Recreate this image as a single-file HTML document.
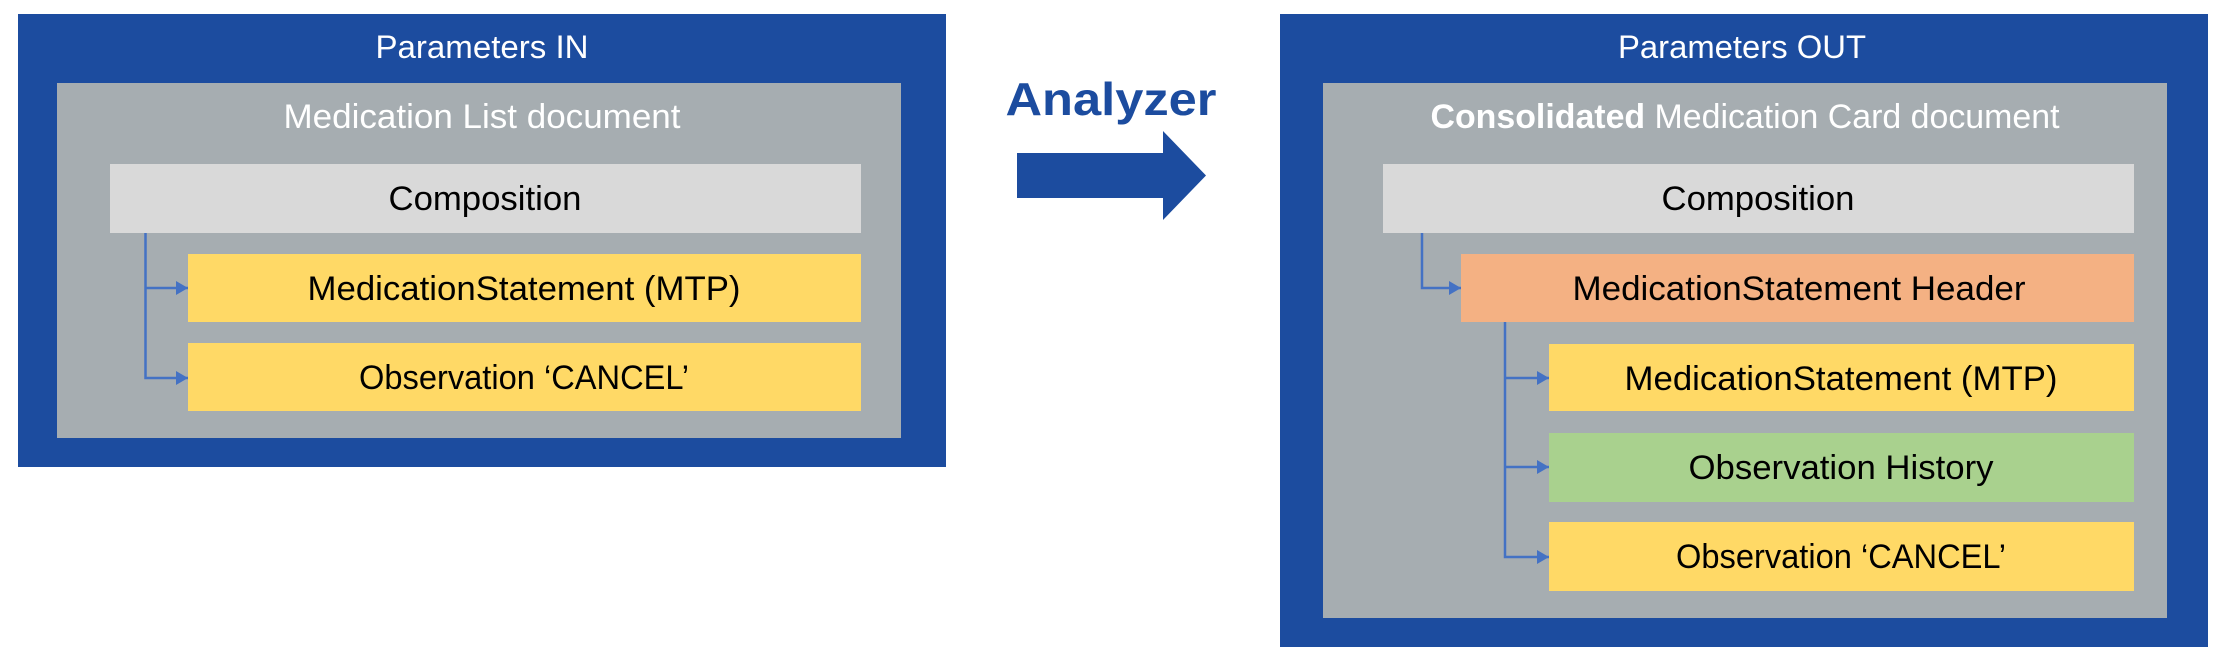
<!DOCTYPE html>
<html><head><meta charset="utf-8"><style>
html,body{margin:0;padding:0;background:#fff;}
svg{display:block;font-family:"Liberation Sans",sans-serif;}
</style></head><body>
<svg width="2227" height="661" viewBox="0 0 2227 661">
<defs>
<marker id="ah" viewBox="0 0 10 10" refX="10" refY="5" markerWidth="12" markerHeight="14" orient="auto" markerUnits="userSpaceOnUse" preserveAspectRatio="none"><path d="M0,0 L10,5 L0,10 z" fill="#4472C4"/></marker>
</defs>
<g>
<rect x="18" y="14" width="928" height="453" fill="#1C4C9F"/>
<text x="482" y="47" fill="#fff" font-size="32" text-anchor="middle" dominant-baseline="central" textLength="213" lengthAdjust="spacingAndGlyphs">Parameters IN</text>
<rect x="57" y="83" width="844" height="355" fill="#A6ADB1"/>
<text x="482" y="117" fill="#fff" font-size="34" text-anchor="middle" dominant-baseline="central" textLength="397" lengthAdjust="spacingAndGlyphs">Medication List document</text>
<rect x="110" y="164" width="751" height="69" fill="#D9D9D9"/>
<text x="485" y="199" font-size="34" text-anchor="middle" dominant-baseline="central" textLength="193" lengthAdjust="spacingAndGlyphs">Composition</text>
<rect x="188" y="254" width="673" height="68" fill="#FFD966"/>
<text x="524" y="289" font-size="34" text-anchor="middle" dominant-baseline="central" textLength="433" lengthAdjust="spacingAndGlyphs">MedicationStatement (MTP)</text>
<rect x="188" y="343" width="673" height="68" fill="#FFD966"/>
<text x="524" y="378" font-size="34" text-anchor="middle" dominant-baseline="central" textLength="330" lengthAdjust="spacingAndGlyphs">Observation ‘CANCEL’</text>
<g fill="none" stroke="#4472C4" stroke-width="2.5">
<path d="M145.5,233 V378 H188" marker-end="url(#ah)"/>
<path d="M145.5,288 H188" marker-end="url(#ah)"/>
</g>
</g>
<g>
<text x="1111" y="99" fill="#1C4C9F" font-size="46" font-weight="bold" text-anchor="middle" dominant-baseline="central" textLength="211" lengthAdjust="spacingAndGlyphs">Analyzer</text>
<path d="M1017,153 H1163 V131 L1206,175.5 L1163,220 V198 H1017 z" fill="#1C4C9F"/>
</g>
<g>
<rect x="1280" y="14" width="928" height="633" fill="#1C4C9F"/>
<text x="1742" y="47" fill="#fff" font-size="32" text-anchor="middle" dominant-baseline="central" textLength="248" lengthAdjust="spacingAndGlyphs">Parameters OUT</text>
<rect x="1323" y="83" width="844" height="535" fill="#A6ADB1"/>
<text x="1745" y="117" fill="#fff" font-size="34" text-anchor="middle" dominant-baseline="central" textLength="629" lengthAdjust="spacingAndGlyphs"><tspan font-weight="bold">Consolidated</tspan> Medication Card document</text>
<rect x="1383" y="164" width="751" height="69" fill="#D9D9D9"/>
<text x="1758" y="199" font-size="34" text-anchor="middle" dominant-baseline="central" textLength="193" lengthAdjust="spacingAndGlyphs">Composition</text>
<rect x="1461" y="254" width="673" height="68" fill="#F4B183"/>
<text x="1799" y="289" font-size="34" text-anchor="middle" dominant-baseline="central" textLength="453" lengthAdjust="spacingAndGlyphs">MedicationStatement Header</text>
<rect x="1549" y="344" width="585" height="67" fill="#FFD966"/>
<text x="1841" y="379" font-size="34" text-anchor="middle" dominant-baseline="central" textLength="433" lengthAdjust="spacingAndGlyphs">MedicationStatement (MTP)</text>
<rect x="1549" y="433" width="585" height="69" fill="#A9D18E"/>
<text x="1841" y="468" font-size="34" text-anchor="middle" dominant-baseline="central" textLength="305" lengthAdjust="spacingAndGlyphs">Observation History</text>
<rect x="1549" y="522" width="585" height="69" fill="#FFD966"/>
<text x="1841" y="557" font-size="34" text-anchor="middle" dominant-baseline="central" textLength="330" lengthAdjust="spacingAndGlyphs">Observation ‘CANCEL’</text>
<g fill="none" stroke="#4472C4" stroke-width="2.5">
<path d="M1422,233 V288 H1461" marker-end="url(#ah)"/>
<path d="M1505,322 V557 H1549" marker-end="url(#ah)"/>
<path d="M1505,378 H1549" marker-end="url(#ah)"/>
<path d="M1505,467 H1549" marker-end="url(#ah)"/>
</g>
</g>
</svg>
</body></html>
